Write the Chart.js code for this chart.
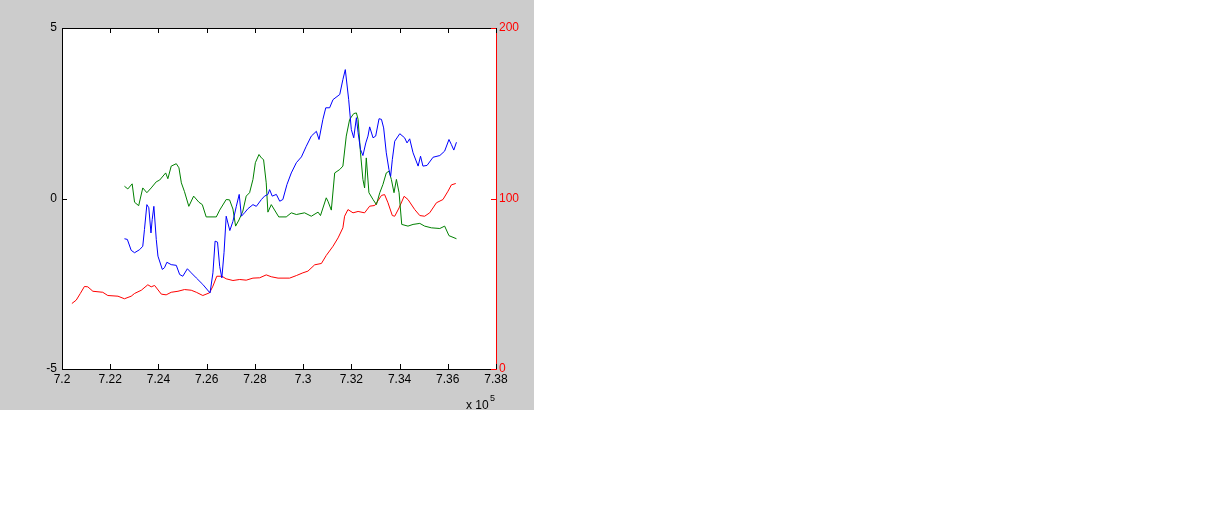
<!DOCTYPE html>
<html>
<head>
<meta charset="utf-8">
<script src="https://cdn.jsdelivr.net/npm/chart.js@4/dist/chart.umd.min.js"></script>
<style>
  html, body { margin: 0; padding: 0; background: #ffffff; }
  #fig { position: absolute; left: 0; top: 0; width: 534px; height: 410px; background: #cccccc; }
</style>
</head>
<body>
<div id="fig"><canvas id="myChart"></canvas></div>
<script>
// x values are raw (axis shows them scaled by 10^5)
var redX = [720410, 720590, 720760, 720930, 721070, 721280, 721690, 721900, 722320, 722590,
  722870, 723010, 723290, 723560, 723700, 723840, 724120, 724320, 724530, 724810,
  725080, 725360, 725570, 725840, 726120, 726260, 726420, 726630, 726810, 727090,
  727370, 727640, 727920, 728200, 728470, 728680, 728960, 729440, 729720, 729990,
  730200, 730480, 730760, 730960, 731240, 731450, 731650, 731720, 731860, 732070,
  732280, 732550, 732760, 732970, 733250, 733380, 733520, 733700, 733800, 733980,
  734190, 734350, 734630, 734840, 735040, 735250, 735530, 735800, 736010, 736150, 736330];
var redY = [38.4, 40.4, 44.3, 48.4, 48.2, 45.6, 45.0, 43.1, 42.7, 41.2,
  42.7, 44.3, 46.2, 49.4, 48.2, 49.0, 43.9, 43.5, 45.0, 45.6,
  46.6, 46.2, 45.0, 43.1, 44.7, 48.6, 54.4, 54.4, 52.9, 51.9,
  52.5, 52.1, 53.3, 53.5, 55.2, 54.1, 53.3, 53.3, 54.8, 56.4,
  57.4, 61.1, 61.9, 66.6, 72.0, 76.9, 82.8, 89.6, 93.5, 91.6,
  92.4, 91.6, 95.5, 95.9, 101.8, 102.3, 97.5, 90.0, 89.6, 94.5,
  101.3, 99.4, 93.5, 90.0, 89.6, 91.6, 97.5, 99.4, 104.3, 108.0, 108.8];

var greenX = [722590, 722730, 722910, 723010, 723180, 723350, 723520, 723700, 723910, 724050,
  724300, 724390, 724530, 724740, 724850, 724950, 725080, 725260, 725460, 725680,
  725820, 725980, 726400, 726540, 726810, 726950, 727090, 727200, 727340, 727500,
  727640, 727780, 727920, 728020, 728170, 728270, 728360, 728470, 728540, 728680,
  728990, 729300, 729510, 729720, 730060, 730340, 730620, 730720, 730960, 731030,
  731170, 731310, 731520, 731650, 731790, 731930, 732100, 732210, 732280, 732380,
  732480, 732550, 732620, 732730, 732900, 733040, 733180, 733310, 733450, 733560,
  733660, 733770, 733870, 733980, 734090, 734350, 734560, 734840, 735040, 735320,
  735670, 735870, 736050, 736360];
var greenY = [0.36, 0.28, 0.43, -0.11, -0.21, 0.31, 0.17, 0.31, 0.49, 0.54,
  0.75, 0.58, 0.95, 1.02, 0.90, 0.46, 0.20, -0.23, 0.07, -0.11,
  -0.18, -0.54, -0.54, -0.34, -0.03, -0.04, -0.31, -0.81, -0.63, -0.37,
  0.07, 0.17, 0.56, 1.05, 1.29, 1.19, 1.14, 0.46, -0.40, -0.18,
  -0.54, -0.54, -0.42, -0.47, -0.42, -0.52, -0.40, -0.50, 0.02, -0.08,
  -0.34, 0.75, 0.85, 0.95, 1.83, 2.32, 2.49, 2.51, 2.32, 1.34,
  0.56, 0.31, 1.19, 0.17, -0.03, -0.18, 0.17, 0.41, 0.75, 0.80,
  0.56, 0.17, 0.56, 0.17, -0.76, -0.81, -0.76, -0.73, -0.81, -0.86,
  -0.88, -0.81, -1.09, -1.18];

var blueX = [722590, 722710, 722870, 723010, 723220, 723350, 723420, 723520, 723600, 723690,
  723740, 723810, 723910, 723980, 724160, 724250, 724350, 724530, 724740, 724880,
  725010, 725200, 725360, 725570, 725840, 726140, 726260, 726350, 726450, 726540,
  726630, 726720, 726810, 726960, 727090, 727230, 727350, 727440, 727570, 727710,
  727920, 728060, 728270, 728400, 728540, 728610, 728720, 728890, 729030, 729160,
  729330, 729510, 729720, 729930, 730130, 730340, 730550, 730660, 730820, 730940,
  731100, 731240, 731520, 731650, 731750, 731890, 732000, 732100, 732210, 732280,
  732380, 732480, 732600, 732690, 732760, 732900, 733010, 733150, 733250, 733340,
  733450, 733560, 733630, 733700, 733800, 734010, 734210, 734310, 734420, 734560,
  734770, 734870, 734970, 735140, 735390, 735670, 735870, 736050, 736150, 736250, 736360];
var blueY = [-1.18, -1.20, -1.52, -1.59, -1.50, -1.40, -0.91, -0.18, -0.27, -1.01,
  -0.62, -0.23, -1.20, -1.69, -2.08, -2.03, -1.87, -1.94, -1.96, -2.23,
  -2.28, -2.06, -2.18, -2.33, -2.52, -2.77, -2.18, -1.25, -1.28, -1.99,
  -2.33, -1.59, -0.52, -0.94, -0.67, -0.23, 0.12, -0.52, -0.42, -0.30,
  -0.18, -0.23, -0.03, 0.07, 0.12, 0.26, 0.07, 0.12, -0.08, -0.03,
  0.41, 0.75, 1.05, 1.22, 1.53, 1.83, 1.97, 1.73, 2.32, 2.66,
  2.66, 2.90, 3.05, 3.49, 3.78, 2.90, 2.02, 1.78, 2.37, 1.93,
  1.44, 1.26, 1.63, 1.83, 2.10, 1.78, 1.83, 2.34, 2.32, 2.07,
  1.34, 0.85, 0.65, 1.14, 1.68, 1.90, 1.78, 1.63, 1.75, 1.34,
  0.95, 1.24, 0.95, 0.97, 1.21, 1.26, 1.39, 1.73, 1.58, 1.42, 1.65];

function pts(xs, ys) {
  return xs.map(function (x, i) { return { x: x, y: ys[i] }; });
}

Chart.defaults.font.family = '"Liberation Sans", Arial, sans-serif';
Chart.defaults.font.size = 12;

var matlabBox = {
  id: 'matlabBox',
  beforeDraw: function (chart) {
    var a = chart.chartArea;
    var ctx = chart.ctx;
    ctx.save();
    ctx.fillStyle = '#ffffff';
    ctx.fillRect(a.left, a.top, a.right - a.left, a.bottom - a.top);
    ctx.restore();
  },
  afterDraw: function (chart) {
    var a = chart.chartArea;
    var ctx = chart.ctx;
    var x = chart.scales.x, y = chart.scales.y, y2 = chart.scales.y2;
    var len = 5;
    ctx.save();
    ctx.lineWidth = 1;
    ctx.strokeStyle = '#000000';
    ctx.beginPath();
    ctx.moveTo(a.left, Math.round(a.top) + 0.5);
    ctx.lineTo(a.right, Math.round(a.top) + 0.5);
    x.ticks.forEach(function (t) {
      var px = Math.round(x.getPixelForValue(t.value)) + 0.5;
      ctx.moveTo(px, a.bottom);
      ctx.lineTo(px, a.bottom - len);
      ctx.moveTo(px, a.top);
      ctx.lineTo(px, a.top + len);
    });
    y.ticks.forEach(function (t) {
      var py = Math.round(y.getPixelForValue(t.value)) + 0.5;
      ctx.moveTo(a.left, py);
      ctx.lineTo(a.left + len, py);
    });
    ctx.stroke();
    ctx.strokeStyle = '#ff0000';
    ctx.beginPath();
    y2.ticks.forEach(function (t) {
      var py = Math.round(y2.getPixelForValue(t.value)) + 0.5;
      ctx.moveTo(a.right, py);
      ctx.lineTo(a.right - len, py);
    });
    ctx.stroke();
    // exponent label under the x axis
    ctx.fillStyle = '#000000';
    ctx.font = '12px "Liberation Sans", Arial, sans-serif';
    ctx.textBaseline = 'alphabetic';
    ctx.textAlign = 'left';
    ctx.fillText('x 10', 466, 409);
    ctx.font = '9px "Liberation Sans", Arial, sans-serif';
    ctx.fillText('5', 490, 401);
    ctx.restore();
  }
};

new Chart('myChart', {
  type: 'line',
  data: {
    datasets: [{
      data: pts(blueX, blueY),
      borderColor: '#0000ff',
      yAxisID: 'y'
    }, {
      data: pts(greenX, greenY),
      borderColor: '#008000',
      yAxisID: 'y'
    }, {
      data: pts(redX, redY),
      borderColor: '#ff0000',
      yAxisID: 'y2'
    }]
  },
  options: {
    responsive: true,
    maintainAspectRatio: false,
    animation: false,
    parsing: false,
    elements: {
      line: { borderWidth: 1, tension: 0 },
      point: { radius: 0 }
    },
    layout: { padding: { top: 28, left: 0, right: 0, bottom: 0 } },
    plugins: {
      legend: { display: false },
      tooltip: { enabled: false }
    },
    scales: {
      x: {
        type: 'linear',
        min: 720000,
        max: 738000,
        grid: { display: false, drawTicks: false },
        border: { display: true, color: '#000000', width: 1 },
        ticks: {
          stepSize: 2000,
          color: '#000000',
          padding: 3,
          maxRotation: 0,
          autoSkip: false,
          callback: function (v) { return String(parseFloat((v / 1e5).toFixed(2))); }
        },
        afterFit: function (s) { s.height = 41; }
      },
      y: {
        position: 'left',
        min: -5,
        max: 5,
        grid: { display: false, drawTicks: false },
        border: { display: true, color: '#000000', width: 1 },
        ticks: { stepSize: 5, color: '#000000', padding: 5 },
        afterFit: function (s) { s.width = 62; }
      },
      y2: {
        position: 'right',
        min: 0,
        max: 200,
        grid: { display: false, drawTicks: false },
        border: { display: true, color: '#ff0000', width: 1 },
        ticks: { stepSize: 100, color: '#ff0000', padding: 3 },
        afterFit: function (s) { s.width = 38; }
      }
    }
  },
  plugins: [matlabBox]
});
</script>
</body>
</html>
